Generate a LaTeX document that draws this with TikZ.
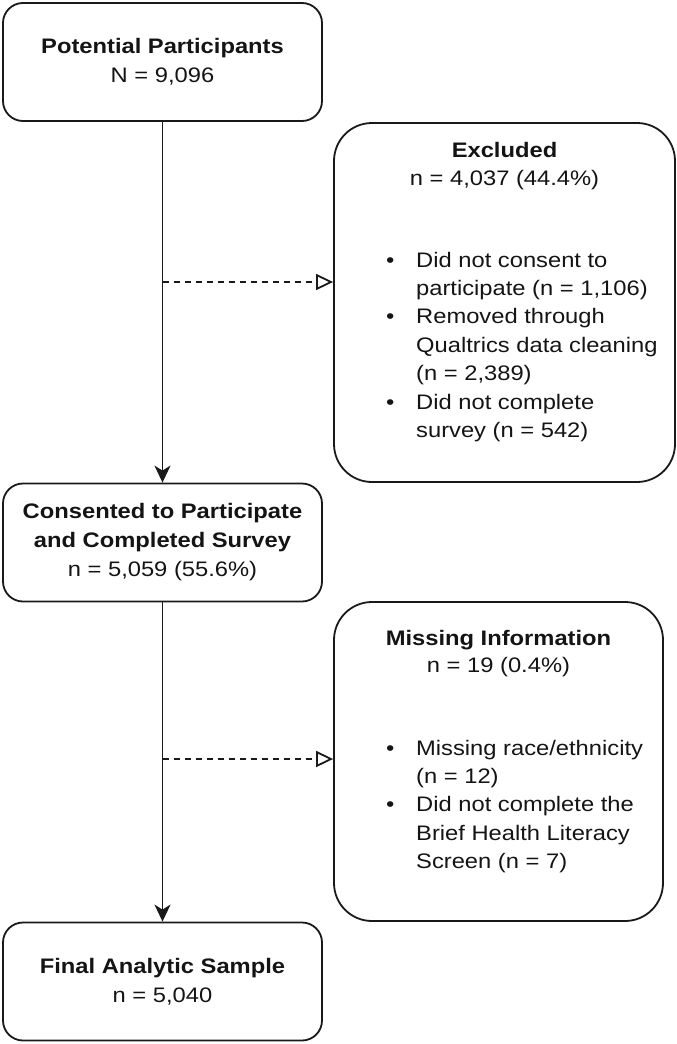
\documentclass[tikz,border=0pt]{standalone}
\usepackage{fontspec}
\setmainfont{Liberation Sans}[FakeStretch=1.13]
\usetikzlibrary{arrows.meta}

\begin{document}
\begin{tikzpicture}[x=1pt,y=-1pt,
  every node/.style={font=\fontsize{21}{29}\selectfont, text=black!92},
  stepbox/.style={draw=black!90, line width=1.8pt, rounded corners=20pt, minimum width=319pt, minimum height=118pt, align=center, inner sep=0pt},
  sidebox/.style={draw=black!90, line width=1.8pt, rounded corners=38pt, inner sep=0pt},
  flow/.style={draw=black!90, line width=1.8pt, -{Stealth[length=17pt,width=16pt,inset=5pt]}},
  skip/.style={draw=black!90, line width=1.8pt, dash pattern=on 6pt off 5pt, -{Triangle[open,length=17pt,width=16pt]}},
  txt/.style={inner sep=0pt, anchor=base},
  lst/.style={inner sep=0pt, anchor=base west, font=\fontsize{21}{28.4}\selectfont}]
\useasboundingbox (0,0) rectangle (677,1044);

\node[stepbox] (pot) at (162.5,62) {\textbf{Potential Participants}\\N = 9,096};
\node[stepbox] (cons) at (162.5,542.5) {\textbf{Consented to Participate}\\\textbf{and Completed Survey}\\n = 5,059 (55.6\%)};
\node[stepbox] (final) at (162.5,981.5) {\textbf{Final Analytic Sample}\\n = 5,040};

\node[sidebox, minimum width=341pt, minimum height=359pt] (excl) at (504.5,302.5) {};
\node[txt] (exclt) at (504.5,157) {\textbf{Excluded}};
\node[txt] (excln) at (504.5,185) {n = 4,037 (44.4\%)};
\node[lst] (excll) at (386,267) {\begin{tabular}[t]{@{}l@{}l@{}}
\makebox[30pt][l]{\textbullet} & Did not consent to\\
 & participate (n = 1,106)\\
\makebox[30pt][l]{\textbullet} & Removed through\\
 & Qualtrics data cleaning\\
 & (n = 2,389)\\
\makebox[30pt][l]{\textbullet} & Did not complete\\
 & survey (n = 542)
\end{tabular}};

\node[sidebox, minimum width=329pt, minimum height=319pt] (miss) at (498.5,761.5) {};
\node[txt] (misst) at (498.5,645) {\textbf{Missing Information}};
\node[txt] (missn) at (498.5,672) {n = 19 (0.4\%)};
\node[lst] (missl) at (386,755) {\begin{tabular}[t]{@{}l@{}l@{}}
\makebox[30pt][l]{\textbullet} & Missing race/ethnicity\\
 & (n = 12)\\
\makebox[30pt][l]{\textbullet} & Did not complete the\\
 & Brief Health Literacy\\
 & Screen (n = 7)
\end{tabular}};

\draw[flow] (pot.south) -- (cons.north);
\draw[flow] (cons.south) -- (final.north);

\coordinate (j1) at (162.5,282);
\coordinate (j2) at (162.5,759);
\draw[skip] (j1) -- (j1 -| excl.west);
\draw[skip] (j2) -- (j2 -| miss.west);

\end{tikzpicture}
\end{document}
